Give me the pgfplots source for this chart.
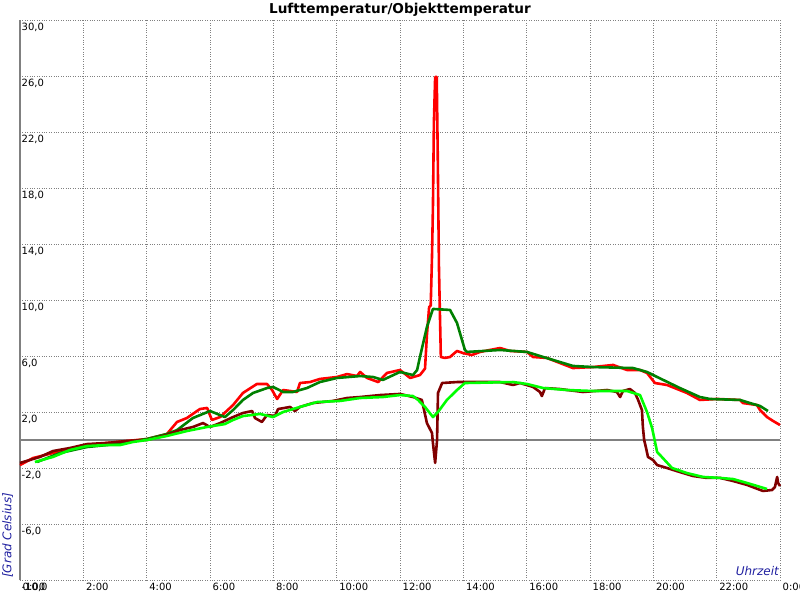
\documentclass[border=0pt]{standalone}
\usepackage{fontspec}
\setmainfont{DejaVu Sans}
\usepackage{pgfplots}
\pgfplotsset{compat=1.18}
\definecolor{labelblue}{RGB}{32,32,160}
\definecolor{airred}{RGB}{255,0,0}
\definecolor{airgreen}{RGB}{0,128,0}
\definecolor{objred}{RGB}{128,0,0}
\definecolor{objgreen}{RGB}{0,255,0}
\begin{document}
\begin{tikzpicture}
\begin{axis}[name=ax,
  scale only axis, width=760pt, height=560pt,
  xmin=0, xmax=24, ymin=-10, ymax=30,
  xtick={0,2,...,24},
  xticklabels={0:00,2:00,4:00,6:00,8:00,10:00,12:00,14:00,16:00,18:00,20:00,22:00,0:00},
  ytick={-10,-6,...,30},
  yticklabels={{-10,0},{-6,0},{-2,0},{2,0},{6,0},{10,0},{14,0},{18,0},{22,0},{26,0},{30,0}},
  grid=major,
  major grid style={draw=gray, dotted, line width=0.9pt},
  major tick length=0pt,
  axis line style={draw=none},
  tick label style={font=\fontsize{10}{12}\selectfont, text=black},
  xticklabel style={anchor=north west, inner sep=0pt, xshift=2.5pt, yshift=-2.5pt},
  yticklabel style={anchor=north west, inner sep=0pt, xshift=1.5pt, yshift=-2.5pt},
  clip=false,
  every axis plot/.append style={line width=2.6pt, line join=round},
]
\draw[gray, line width=2pt] (axis cs:0,0) -- (axis cs:24,0);
\draw[gray, line width=2pt] (rel axis cs:0,0) -- (rel axis cs:0,1);
% Lufttemperatur (red)
\addplot[airred] coordinates {
(0.00,-1.79) (0.41,-1.29) (1.04,-0.93) (1.58,-0.64) (2.12,-0.36) (2.75,-0.21)
(3.38,-0.07) (4.01,0.07) (4.64,0.43) (4.96,1.29) (5.27,1.57) (5.68,2.21)
(5.91,2.29) (6.06,1.43) (6.32,1.64) (6.73,2.5) (7.04,3.36) (7.48,4.0)
(7.80,4.0) (7.96,3.57) (8.12,2.93) (8.31,3.57) (8.75,3.43) (8.84,4.07)
(9.16,4.14) (9.47,4.36) (10.01,4.5) (10.33,4.71) (10.64,4.57) (10.74,4.86)
(10.96,4.43) (11.31,4.14) (11.59,4.79) (12.0,5.0) (12.32,4.43) (12.63,4.64)
(12.79,5.1) (12.85,7.5) (12.92,9.5) (12.97,9.6) (13.01,13.07) (13.04,16.64) (13.07,22.64)
(13.11,25.93) (13.16,25.93) (13.19,20.71) (13.23,12.36) (13.26,9.07)
(13.29,5.93) (13.42,5.86) (13.58,5.93) (13.80,6.36) (13.99,6.21) (14.27,6.07)
(14.53,6.29) (14.84,6.43) (15.16,6.57) (15.47,6.36) (16.01,6.29) (16.20,5.93)
(16.64,5.86) (17.05,5.5) (17.46,5.14) (18.09,5.21) (18.73,5.36) (19.17,5.0)
(19.58,5.0) (19.80,4.79) (20.05,4.07) (20.43,3.93) (21.06,3.36) (21.47,2.86)
(22.01,2.93) (22.74,2.86) (22.83,2.64) (23.27,2.5) (23.37,2.14) (23.59,1.64)
(23.78,1.36) (24.0,1.07)
};
% Lufttemperatur geglaettet (dark green)
\addplot[airgreen] coordinates {
(0.54,-1.57) (1.26,-0.93) (2.12,-0.5) (2.75,-0.36) (3.38,-0.14) (4.01,0.07)
(4.64,0.43) (4.96,0.71) (5.46,1.57) (6.0,2.07) (6.47,1.64) (6.73,2.14)
(7.04,2.86) (7.36,3.36) (7.80,3.71) (7.99,3.79) (8.31,3.43) (8.62,3.43)
(9.06,3.71) (9.47,4.14) (10.01,4.43) (10.74,4.57) (11.15,4.5) (11.46,4.29)
(12.0,4.86) (12.41,4.64) (12.54,5.0) (12.63,5.93) (12.85,8.07) (13.04,9.36)
(13.58,9.29) (13.80,8.36) (14.05,6.43) (14.12,6.29) (15.16,6.43) (16.01,6.29)
(16.42,6.0) (17.46,5.29) (18.09,5.21) (19.36,5.14) (19.80,4.86) (20.12,4.5)
(20.84,3.71) (21.47,3.07) (21.79,2.93) (22.74,2.86) (23.05,2.64) (23.37,2.43)
(23.62,2.07)
};
% Objekttemperatur (maroon)
\addplot[objred] coordinates {
(0,-1.64) (0.63,-1.21) (1.04,-0.79) (1.58,-0.57) (2.12,-0.29) (2.75,-0.21)
(3.38,-0.07) (4.01,0) (4.64,0.36) (5.05,0.71) (5.46,0.93) (5.78,1.21)
(6.0,0.93) (6.32,1.21) (6.73,1.64) (7.04,1.93) (7.33,2.07) (7.42,1.57)
(7.64,1.29) (7.80,1.79) (8.05,1.71) (8.15,2.21) (8.53,2.36) (8.68,2.07)
(8.84,2.36) (9.25,2.64) (9.88,2.79) (10.33,3.0) (10.74,3.07) (11.37,3.21)
(12.0,3.29) (12.41,3.07) (12.69,2.86) (12.85,1.21) (13.01,0.5) (13.04,-0.21)
(13.11,-1.64) (13.17,0) (13.20,3.36) (13.33,4.07) (13.80,4.14) (14.53,4.14)
(15.16,4.14) (15.57,3.93) (15.79,4.07) (16.20,3.79) (16.42,3.43) (16.48,3.14)
(16.58,3.71) (17.05,3.64) (17.78,3.43) (18.54,3.57) (18.85,3.43) (18.95,3.07)
(19.04,3.5) (19.26,3.64) (19.42,3.36) (19.52,2.86) (19.64,2.14) (19.67,0.93)
(19.71,0) (19.77,-0.57) (19.83,-1.21) (19.99,-1.43) (20.12,-1.79) (20.43,-2.0)
(20.84,-2.29) (21.25,-2.57) (21.69,-2.71) (22.11,-2.71) (22.52,-2.93) (22.96,-3.21)
(23.46,-3.64) (23.75,-3.57) (23.84,-3.36) (23.91,-2.64) (23.94,-3.07) (24.0,-3.29)
};
% Objekttemperatur geglaettet (bright green)
\addplot[objgreen] coordinates {
(0.47,-1.57) (1.04,-1.21) (1.58,-0.71) (2.12,-0.43) (2.75,-0.36) (3.16,-0.36)
(3.57,-0.14) (4.01,0) (4.64,0.29) (5.27,0.64) (5.91,0.93) (6.47,1.14)
(6.73,1.43) (7.04,1.71) (7.58,1.86) (7.99,1.64) (8.31,2.0) (8.84,2.36)
(9.38,2.71) (10.11,2.79) (10.74,3.0) (11.46,3.07) (12.0,3.21) (12.41,3.14)
(12.57,2.86) (12.79,2.36) (13.04,1.64) (13.20,2.0) (13.48,2.86) (13.80,3.57)
(14.05,4.07) (15.57,4.14) (16.01,4.0) (16.52,3.71) (17.27,3.57) (18.09,3.5)
(19.17,3.5) (19.58,3.21) (19.80,2.0) (19.96,0.86) (20.12,-0.86) (20.21,-1.07)
(20.59,-2.0) (21.06,-2.36) (21.57,-2.64) (22.11,-2.71) (22.52,-2.79) (22.96,-3.07)
(23.59,-3.5)
};
\end{axis}
\node[anchor=north, inner sep=0pt, font=\bfseries\fontsize{13.6}{15}\selectfont] at ([yshift=17.5pt]ax.north) {Lufttemperatur/Objekttemperatur};
\node[rotate=90, anchor=base west, inner sep=0pt, text=labelblue, font=\itshape\fontsize{12}{14}\selectfont] at ([xshift=-8.5pt, yshift=2pt]ax.south west) {[Grad Celsius]};
\node[anchor=base east, inner sep=0pt, text=labelblue, font=\itshape\fontsize{12}{14}\selectfont] at ([xshift=-1pt, yshift=5pt]ax.south east) {Uhrzeit};
\pgfresetboundingbox
\useasboundingbox ([shift={(-20pt,-20pt)}]ax.south west) rectangle ([shift={(20pt,20pt)}]ax.north east);
\end{tikzpicture}
\end{document}
